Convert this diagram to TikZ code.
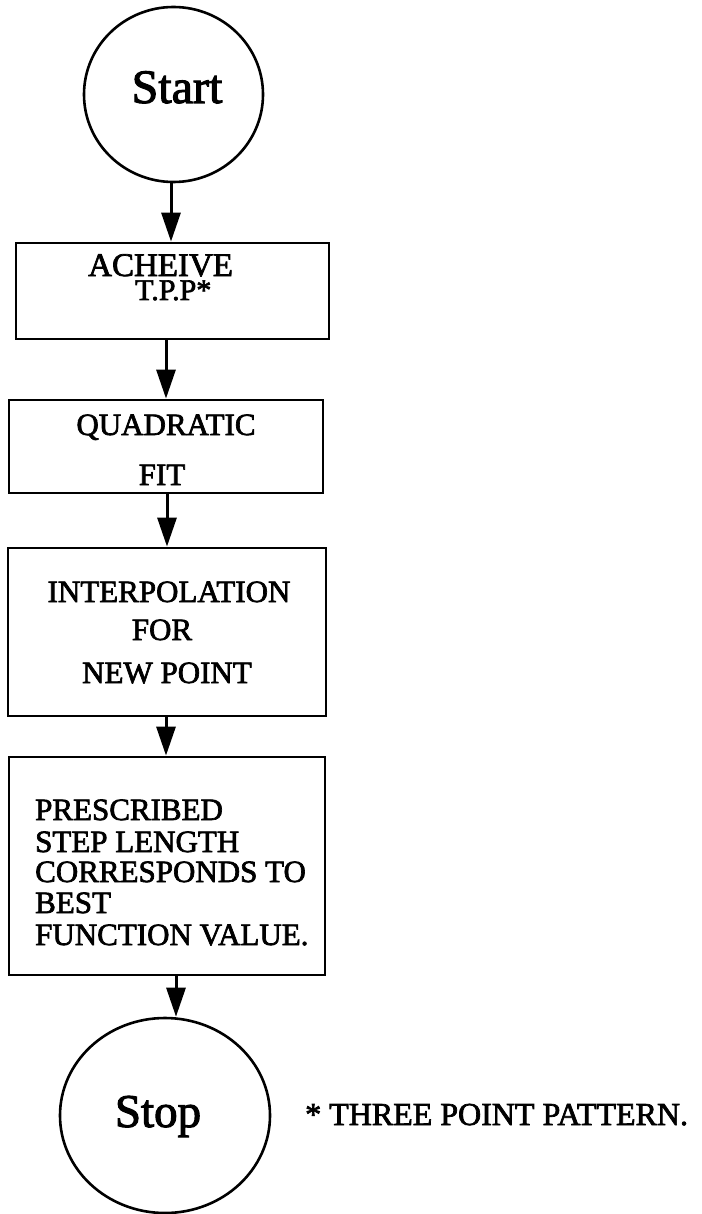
\documentclass[tikz,border=0pt]{standalone}
\usepackage{fontspec}
\setmainfont{Liberation Serif}
\newfontfamily\heavy[FakeBold=2.2]{Liberation Serif}
\usetikzlibrary{shapes.geometric,arrows.meta}
\tikzset{
  x=1pt,y=-1pt,
  procbox/.style={draw,line width=2.8pt,rectangle,inner sep=0pt},
  term/.style={draw,line width=2.6pt,ellipse,inner sep=0pt},
  flow/.style={line width=3pt,-{Triangle[length=29pt,width=19pt]}},
  lbl/.style={inner sep=0pt,anchor=base,font=\heavy\fontsize{31}{31}\selectfont},
  lbll/.style={lbl,anchor=base west},
}
\begin{document}
\begin{tikzpicture}
\path[use as bounding box,fill=white] (0,0) rectangle (701,1214);
% terminals
\node[term,minimum width=179pt,minimum height=175pt] (start) at (173.5,94.5) {};
\node[term,minimum width=210pt,minimum height=195pt] (stop) at (165,1115.5) {};
% boxes
\node[procbox,minimum width=313pt,minimum height=96pt] (b1) at (172.5,291) {};
\node[procbox,minimum width=314pt,minimum height=93pt] (b2) at (166,446.5) {};
\node[procbox,minimum width=318pt,minimum height=168pt] (b3) at (167,632) {};
\node[procbox,minimum width=316pt,minimum height=218pt] (b4) at (167,866) {};
% texts
\node[lbl,font=\heavy\fontsize{48}{48}\selectfont] (tstart) at (177,103) {Start};
\node[lbl,font=\heavy\fontsize{47}{47}\selectfont] (tstop) at (158,1127) {Stop};
\node[lbll,align=left,font=\heavy\fontsize{33}{24}\selectfont] (t1) at (88,300)
  {ACHEIVE\\\hspace*{47pt}{\fontsize{30}{24}\selectfont T.P.P*}};
\node[lbl] (t2a) at (166,435) {QUADRATIC};
\node[lbl] (t2b) at (162,485) {FIT};
\node[lbl] (t3a) at (169,602) {INTERPOLATION};
\node[lbl] (t3b) at (162,640) {FOR};
\node[lbl] (t3c) at (167,683) {NEW POINT};
\node[lbll] (t4a) at (35,820) {PRESCRIBED};
\node[lbll] (t4b) at (35,852) {STEP LENGTH};
\node[lbll] (t4c) at (35,882) {CORRESPONDS TO};
\node[lbll] (t4d) at (35,913) {BEST};
\node[lbll] (t4e) at (35,945) {FUNCTION VALUE.};
\node[lbll,font=\heavy\fontsize{32}{32}\selectfont] (foot) at (305,1125) {* THREE POINT PATTERN.};
% arrow columns
\coordinate (c1) at (171,0);
\coordinate (c2) at (166,0);
\coordinate (c3) at (167,0);
\coordinate (c4) at (166,0);
\coordinate (c5) at (176,0);
\draw[flow] (start.south -| c1) -- (b1.north -| c1);
\draw[flow] (b1.south -| c2) -- (b2.north -| c2);
\draw[flow] (b2.south -| c3) -- (b3.north -| c3);
\draw[flow] (b3.south -| c4) -- (b4.north -| c4);
\draw[flow] (b4.south -| c5) -- (stop.north -| c5);
\end{tikzpicture}
\end{document}
